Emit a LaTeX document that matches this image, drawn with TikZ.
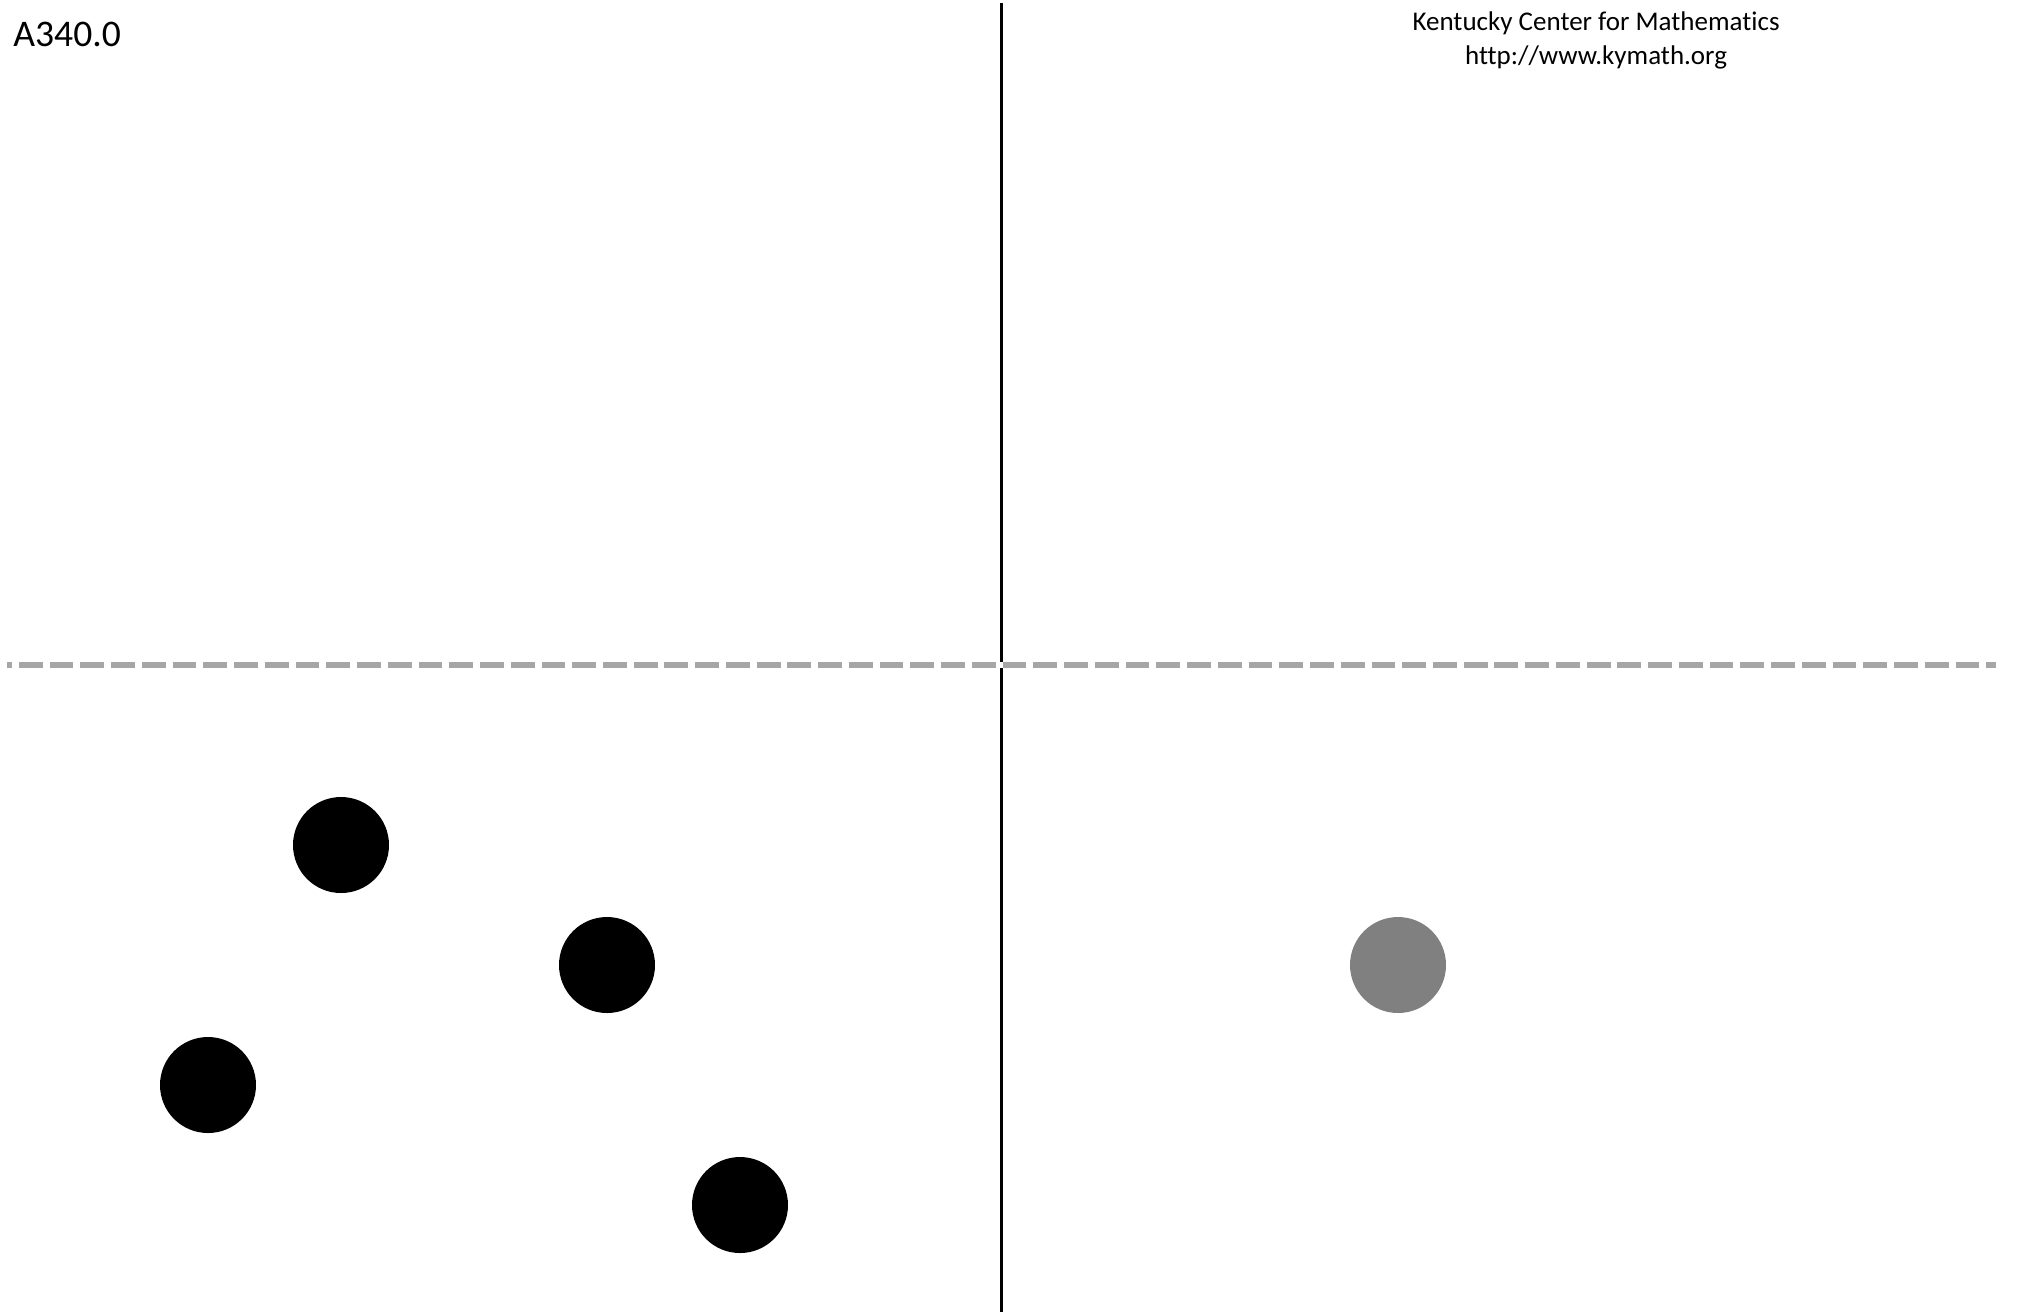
\documentclass[tikz,border=0pt]{standalone}
\usepackage{fontspec}
\setmainfont{Carlito}[Ligatures=NoCommon]
\begin{document}
\begin{tikzpicture}[x=0.5pt,y=-0.5pt,
  dot/.style={circle,fill=black,draw=none,inner sep=0pt,minimum size=48pt},
  greydot/.style={dot,fill=gray50},
  axis/.style={line width=1.5pt,black},
  midline/.style={line width=3pt,color=dashgrey,dash pattern=on 11.9pt off 3.47pt,dash phase=9.4pt},
  lbl/.style={inner sep=0pt,anchor=base west,font=\fontsize{18.8pt}{22pt}\selectfont},
  credit/.style={inner sep=0pt,anchor=base,align=center,font=\fontsize{13.5pt}{17pt}\selectfont}]
\definecolor{dashgrey}{HTML}{A6A6A6}
\definecolor{gray50}{HTML}{808080}
\useasboundingbox (0,0) rectangle (2017,1314);
\coordinate (vtop) at (1001.5,3);
\coordinate (vbot) at (1001.5,1312);
\coordinate (hl) at (7,665);
\coordinate (hr) at (1996,665);
\draw[axis] (vtop) -- (vbot);
\draw[white,line width=3pt] (hl) -- (hr);
\draw[midline] (hl) -- (hr);
\node[lbl] (title) at (13,46) {A340.0};
\node[credit] (kcm) at (1596,64) {Kentucky Center for Mathematics\\http://www.kymath.org};
\node[dot] (c1) at (341,845) {};
\node[dot] (c2) at (607,965) {};
\node[dot] (c3) at (208,1085) {};
\node[dot] (c4) at (740,1205) {};
\node[greydot] (g1) at (1398,965) {};
\end{tikzpicture}
\end{document}
